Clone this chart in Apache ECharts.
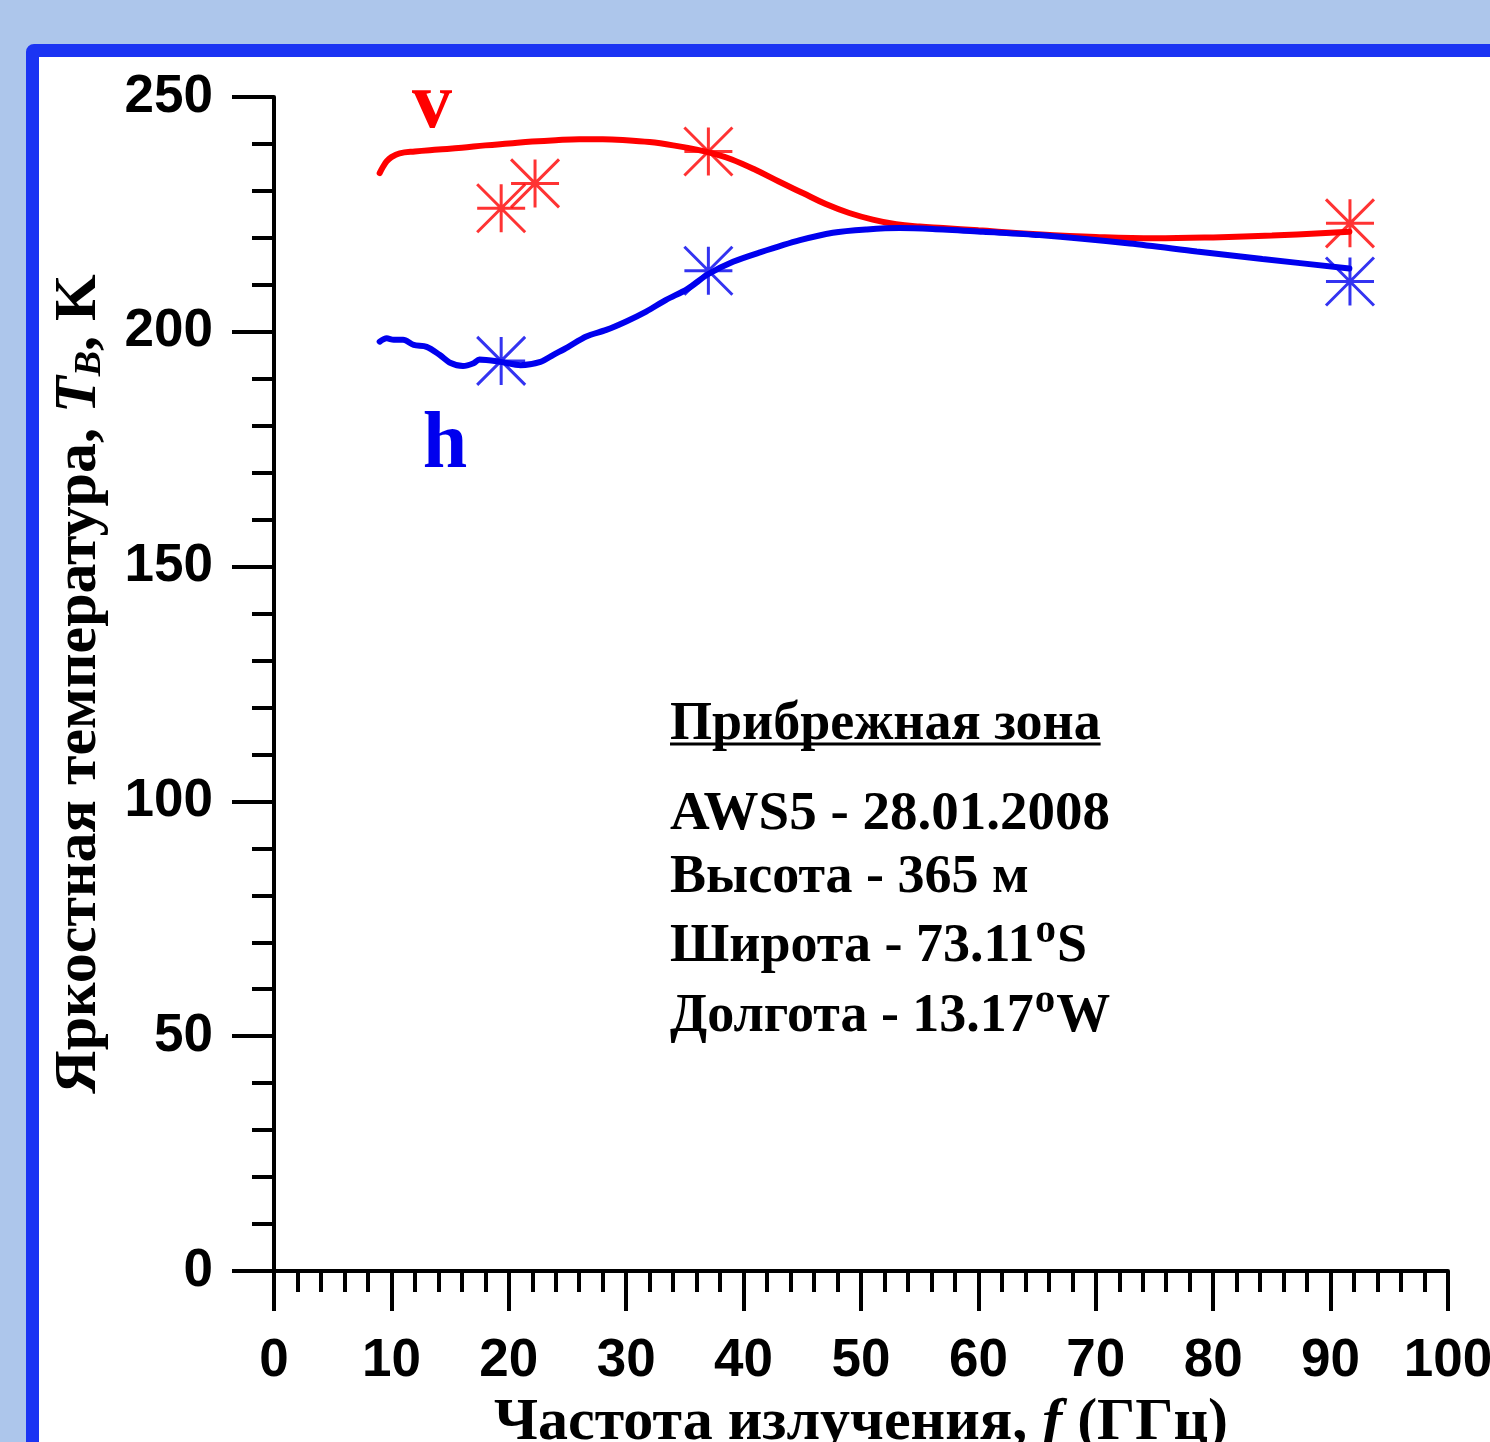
<!DOCTYPE html>
<html>
<head>
<meta charset="utf-8">
<script src="https://cdn.jsdelivr.net/npm/echarts@6/dist/echarts.min.js"></script>
<style>
html,body{margin:0;padding:0;width:1490px;height:1442px;overflow:hidden;background:#adc6eb;}
#frame{position:absolute;left:26px;top:44px;width:1500px;height:1450px;border:13px solid #1b34f3;border-radius:8px;background:#fff;box-sizing:border-box;}
#chart{position:absolute;left:0;top:0;width:1490px;height:1442px;}
</style>
</head>
<body>
<div id="frame"></div>
<div id="chart"></div>
<script>
// Frequency axis ticks (GHz) and temperature axis ticks (K)
const xTicks = [0, 10, 20, 30, 40, 50, 60, 70, 80, 90, 100];
const yTicks = [0, 50, 100, 150, 200, 250];

// v-polarisation model curve
const vLineX = [9.0, 9.3, 9.6, 10.0, 10.7, 12, 14, 16, 18, 20, 22, 24, 26, 28, 30, 32, 34, 36, 37.5, 39, 41, 43, 45, 47, 49, 51, 53, 55, 57, 60, 65, 70, 75, 80, 85, 91.6];
const vLineT = [233.8, 235.2, 236.3, 237.2, 238.0, 238.4, 238.8, 239.2, 239.7, 240.1, 240.5, 240.8, 241.0, 241.0, 240.8, 240.4, 239.7, 238.8, 237.9, 236.7, 234.5, 232.0, 229.6, 227.2, 225.3, 223.9, 222.9, 222.4, 222.1, 221.6, 220.8, 220.2, 219.9, 220.1, 220.5, 221.3];

// h-polarisation model curve
const hLineX = [9.0, 9.6, 10.2, 11.0, 11.9, 13.0, 14.1, 15.0, 16.1, 17.0, 17.5, 19.3, 21.0, 22.7, 23.8, 25.0, 26.6, 28.3, 30.0, 31.7, 33.4, 35.2, 37.0, 39.1, 41.4, 44.8, 47.6, 50.5, 53.3, 56.1, 60.4, 65.2, 72.9, 78.6, 84.2, 91.6];
const hLineT = [197.9, 198.6, 198.3, 198.3, 197.2, 196.8, 195.1, 193.4, 192.7, 193.3, 194.1, 193.6, 192.9, 193.6, 195.1, 196.7, 199.0, 200.4, 202.2, 204.3, 206.8, 209.1, 212.3, 214.9, 216.9, 219.5, 221.1, 221.8, 222.1, 221.9, 221.3, 220.6, 218.8, 217.1, 215.5, 213.5];

// Measured (satellite) points
const vPointX = [19.35, 22.235, 37.0, 91.65];
const vPointT = [226.3, 231.6, 238.4, 223.1];
const hPointX = [19.35, 37.0, 91.65];
const hPointT = [193.8, 213.0, 210.7];

// Texts
const xName = 'Частота излучения, {i|f} {n|(ГГц)}';
const yName = 'Яркостная температура, {i|T}{sub|B}{n|, K}';
const noteTitle = 'Прибрежная зона';
// each line: [text before superscript, superscript, text after]
const noteLines = [
  ['AWS5 - 28.01.2008', '', ''],
  ['Высота - 365 м', '', ''],
  ['Широта - 73.11', 'o', 'S'],
  ['Долгота - 13.17', 'o', 'W']
];

const pair = (xs, ys) => xs.map((x, i) => [x, ys[i]]);
const star = 'path://M0,0L48,48M48,0L0,48M24,0L24,48M0,24L48,24';
const serif = '"Liberation Serif", "Times New Roman", serif';
const sans = '"Liberation Sans", Arial, sans-serif';

const chart = echarts.init(document.getElementById('chart'), null, {renderer: 'canvas'});

const lineFS = [55, 54, 54, 54];
const titleFS = 54;
const SUPFS = 41;
const fontOf = fs => 'bold ' + fs + 'px ' + serif;
const supFont = fontOf(SUPFS);
const measureCtx = document.createElement('canvas').getContext('2d');
const textW = (t, f) => { measureCtx.font = f; return measureCtx.measureText(t).width; };

const noteX = 670;
const titleBase = 739;
const noteBase = [829, 892, 961, 1031];
const midOff = fs => 0.3375 * fs - 4;

const graphics = [
  { type: 'text', z: 100, style: { text: noteTitle, x: noteX, y: titleBase - midOff(titleFS), font: fontOf(titleFS), fill: '#000', align: 'left', verticalAlign: 'middle' } },
  { type: 'line', z: 100, shape: { x1: noteX, y1: 744, x2: noteX + textW(noteTitle, fontOf(titleFS)), y2: 744 }, style: { stroke: '#000', lineWidth: 3 } },
  { type: 'text', z: 100, style: { text: 'v', x: 432, y: 106, font: 'bold 80px ' + serif, fill: '#ff0000', align: 'center', verticalAlign: 'middle' } },
  { type: 'text', z: 100, style: { text: 'h', x: 445, y: 446, font: 'bold 80px ' + serif, fill: '#0000ee', align: 'center', verticalAlign: 'middle' } }
];
noteLines.forEach((parts, i) => {
  const b = noteBase[i];
  const fs = lineFS[i];
  const f = fontOf(fs);
  let x = noteX;
  graphics.push({ type: 'text', z: 100, style: { text: parts[0], x: x, y: b - midOff(fs), font: f, fill: '#000', align: 'left', verticalAlign: 'middle' } });
  if (parts[1]) {
    x += textW(parts[0], f) + 1;
    graphics.push({ type: 'text', z: 100, style: { text: parts[1], x: x, y: b - 0.662 * fs + 0.12 * SUPFS + 1, font: supFont, fill: '#000', align: 'left', verticalAlign: 'middle' } });
    x += textW(parts[1], supFont) + 1;
    graphics.push({ type: 'text', z: 100, style: { text: parts[2], x: x, y: b - midOff(fs), font: f, fill: '#000', align: 'left', verticalAlign: 'middle' } });
  }
});

const option = {
  animation: false,
  backgroundColor: 'transparent',
  grid: { left: 274, right: 42, top: 97, bottom: 171, outerBoundsMode: 'none', containLabel: false },
  xAxis: {
    type: 'value', min: xTicks[0], max: xTicks[xTicks.length - 1], interval: 10,
    name: xName, nameLocation: 'middle', nameGap: 122, nameMoveOverlap: false,
    nameTextStyle: { fontFamily: serif, fontWeight: 'bold', fontSize: 60, color: '#000',
      rich: { i: { fontFamily: serif, fontWeight: 'bold', fontStyle: 'italic', fontSize: 60 }, n: { fontFamily: serif, fontWeight: 'bold', fontSize: 60 } } },
    axisLine: { show: true, onZero: false, lineStyle: { color: '#000', width: 4 } },
    axisTick: { show: true, inside: false, length: 40, lineStyle: { color: '#000', width: 4 } },
    minorTick: { show: true, splitNumber: 5, length: 21, lineStyle: { color: '#000', width: 4 } },
    splitLine: { show: false },
    axisLabel: { fontFamily: sans, fontWeight: 'bold', fontSize: 53, color: '#000', margin: 64, showMinLabel: true, showMaxLabel: true, hideOverlap: false }
  },
  yAxis: {
    type: 'value', min: yTicks[0], max: yTicks[yTicks.length - 1], interval: 50,
    name: yName, nameLocation: 'middle', nameGap: 165, nameMoveOverlap: false,
    nameTextStyle: { fontFamily: serif, fontWeight: 'bold', fontSize: 60, color: '#000',
      rich: { i: { fontFamily: serif, fontWeight: 'bold', fontStyle: 'italic', fontSize: 60 },
              sub: { fontFamily: serif, fontWeight: 'bold', fontStyle: 'italic', fontSize: 38, verticalAlign: 'bottom' },
              n: { fontFamily: serif, fontWeight: 'bold', fontSize: 60 } } },
    axisLine: { show: true, onZero: false, lineStyle: { color: '#000', width: 4 } },
    axisTick: { show: true, inside: false, length: 42, lineStyle: { color: '#000', width: 4 } },
    minorTick: { show: true, splitNumber: 5, length: 22, lineStyle: { color: '#000', width: 4 } },
    splitLine: { show: false },
    axisLabel: { fontFamily: sans, fontWeight: 'bold', fontSize: 53, color: '#000', margin: 61, showMinLabel: true, showMaxLabel: true }
  },
  series: [
    { type: 'line', name: 'v', data: pair(vLineX, vLineT), showSymbol: false, symbol: 'none', smooth: 0.4,
      lineStyle: { color: '#ff0000', width: 6, cap: 'round' }, z: 3 },
    { type: 'line', name: 'h', data: pair(hLineX, hLineT), showSymbol: false, symbol: 'none', smooth: 0.3,
      lineStyle: { color: '#0000ee', width: 6, cap: 'round' }, z: 3 },
    { type: 'scatter', name: 'v obs', data: pair(vPointX, vPointT), symbol: star, symbolSize: 48,
      itemStyle: { color: 'rgba(0,0,0,0)', borderColor: '#ff0000', borderWidth: 3 }, z: 4 },
    { type: 'scatter', name: 'h obs', data: pair(hPointX, hPointT), symbol: star, symbolSize: 48,
      itemStyle: { color: 'rgba(0,0,0,0)', borderColor: '#0000ee', borderWidth: 3 }, z: 4 }
  ],
  graphic: graphics
};
chart.setOption(option);
</script>
</body>
</html>
